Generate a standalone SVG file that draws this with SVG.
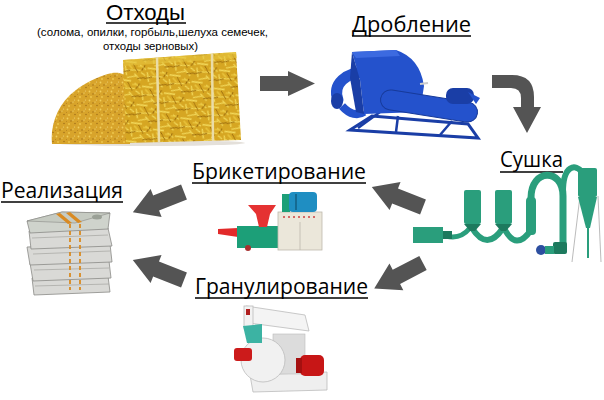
<svg xmlns="http://www.w3.org/2000/svg" width="604" height="400" viewBox="0 0 604 400">
<style>
.h{font-family:"Open Sans","Noto Sans","DejaVu Sans",sans-serif;font-size:21.5px;fill:#000}
.t{font-family:"Liberation Sans","Arial",sans-serif;fill:#000}
.ul{stroke:#000;stroke-width:1.4}
.arr{fill:#545454}
.blue{fill:#2452cc}
.blued{fill:#1a3ea6}
.grn{fill:#2a9e7c}
.grnd{fill:#1d7a5e}
.pipe{fill:none;stroke:#2a9e7c;stroke-linecap:round}
.bill{fill:#d9d9d6;stroke:#8a8a86;stroke-width:0.8}
.band{fill:#d98a22}
</style>
<defs>
<pattern id="straw" width="23" height="19" patternUnits="userSpaceOnUse" patternTransform="rotate(17)">
<rect width="23" height="19" fill="#d6a622"/>
<path d="M0 3 L11 1 M3 11 L17 7 M6 18 L14 14 M1 7 L5 16 M15 2 L22 5 M12 12 L20 17 M18 9 L23 11" stroke="#f3da5c" stroke-width="1.3"/>
<path d="M8 3 L15 10 M0 14 L7 10 M16 16 L23 13 M20 1 L18 7" stroke="#9a6a0c" stroke-width="1"/>
<path d="M4 5 L9 8 M13 4 L19 3" stroke="#e8c23a" stroke-width="1.6"/>
</pattern>
<pattern id="dust" width="11" height="9" patternUnits="userSpaceOnUse">
<rect width="11" height="9" fill="#d8a42b"/>
<circle cx="1.5" cy="1.5" r="0.9" fill="#f1cf5c"/>
<circle cx="5" cy="4" r="0.8" fill="#a87418"/>
<circle cx="8.5" cy="1" r="0.6" fill="#eed27a"/>
<circle cx="3" cy="7" r="0.9" fill="#efc94e"/>
<circle cx="9" cy="6.5" r="0.7" fill="#9c6a14"/>
<circle cx="7" cy="3" r="0.6" fill="#f4dc80"/>
<circle cx="0.5" cy="4.5" r="0.5" fill="#b58020"/>
</pattern>
<path id="arrow" d="M0 -8 L30 -8 L30 -15 L55 0 L30 15 L30 8 L0 8 Z"/>
</defs>
<rect width="604" height="400" fill="#fff"/>

<g id="connectors">
<path class="arr" d="M260 76 L288 76 L288 71 L315 83.5 L288 96 L288 91 L260 91 Z"/>
<path class="arr" d="M492 75 L512 75 Q534 75 534 97 L534 107 L541 107 L527 133 L513 107 L521 107 L521 98 Q521 88 511 88 L492 88 Z"/>
<use href="#arrow" class="arr" transform="translate(423 207) rotate(201.4)"/>
<use href="#arrow" class="arr" transform="translate(423 263) rotate(152.5)"/>
<use href="#arrow" class="arr" transform="translate(184 192) rotate(158.4)"/>
<use href="#arrow" class="arr" transform="translate(184 280) rotate(201.4)"/>
</g>

<g id="node-otkhody">
<text class="t" x="106" y="20" font-size="21.5" textLength="79" lengthAdjust="spacingAndGlyphs">Отходы</text>
<line class="ul" x1="106" y1="23" x2="186" y2="23"/>
<text class="t" x="37" y="35.5" font-size="11.5" textLength="231" lengthAdjust="spacingAndGlyphs">(солома, опилки, горбыль,шелуха семечек,</text>
<text class="t" x="103" y="49.5" font-size="11.5" textLength="95" lengthAdjust="spacingAndGlyphs">отходы зерновых)</text>
<ellipse cx="150" cy="143" rx="95" ry="3" fill="#e4e0da"/>
<path d="M52 144 C50 128 56 108 70 95 C82 84 98 76 112 73 C120 72 126 74 130 80 L130 144 Z" fill="url(#dust)"/>
<path d="M123 60 L236 52 L241 140 L126 143 Z" fill="url(#straw)"/>
<path d="M123 60 L236 52 L237 58 L124 66 Z" fill="#e6c440" opacity="0.6"/>
<path d="M157 57 L159 142 M212 54 L213 141" stroke="#eadca8" stroke-width="2.5" fill="none"/>
</g>

<g id="node-droblenie">
<text class="h" x="352" y="32" textLength="119" lengthAdjust="spacingAndGlyphs">Дробление</text>
<line class="ul" x1="352" y1="36" x2="471" y2="36"/>
<path d="M350 130 L372 116 L468 124 L478 138 Z" fill="none" stroke="#1a3ea6" stroke-width="3"/>
<path d="M358 128 L380 112 M440 135 L452 121 M396 132 L398 116" stroke="#1a3ea6" stroke-width="2.5"/>
<path d="M338 100 C332 84 346 72 366 72" class="pipe" style="stroke:#2452cc" stroke-width="11"/>
<ellipse cx="337" cy="101" rx="6" ry="8" class="blued"/>
<path d="M342 106 C350 115 358 116 364 112" fill="none" stroke="#2452cc" stroke-width="8"/>
<path d="M352 52 L396 50 Q420 58 424 86 L420 112 L364 114 L360 80 Z" class="blue"/>
<path d="M352 52 L360 80 L364 114 L356 112 L350 78 Z" class="blued"/>
<path d="M352 52 L396 50 L400 56 L356 58 Z" fill="#3c6ae0"/>
<rect x="380" y="96" width="98" height="20" rx="10" class="blue" transform="rotate(9 429 106)"/>
<rect x="380" y="96" width="98" height="20" rx="10" fill="none" stroke="#173a9a" stroke-width="1" transform="rotate(9 429 106)"/>
<rect x="446" y="88" width="28" height="16" rx="7" class="blued"/>
<path d="M468 92 L480 98 L476 104 Z" class="blue"/>
<line x1="420" y1="84" x2="428" y2="83" stroke="#ccc" stroke-width="2"/>
</g>

<g id="node-sushka">
<text class="h" x="500" y="167" textLength="63" lengthAdjust="spacingAndGlyphs">Сушка</text>
<line class="ul" x1="500" y1="172" x2="563" y2="172"/>
<line x1="598" y1="196" x2="601" y2="262" stroke="#aaa" stroke-width="0.8"/>
<line x1="580" y1="196" x2="572" y2="262" stroke="#aaa" stroke-width="0.8"/>
<path d="M446 236 Q460 240 470 228" class="pipe" stroke-width="5"/>
<path d="M472 228 Q487 252 503 228" class="pipe" stroke-width="6"/>
<path d="M504 228 Q516 252 531 230" class="pipe" stroke-width="6"/>
<path d="M531 198 C531 168 563 168 563 196 L563 246" class="pipe" stroke-width="7"/>
<path d="M563 192 C563 164 576 164 582 172" class="pipe" stroke-width="6"/>
<rect x="413" y="227" width="30" height="16" class="grn"/>
<rect x="443" y="231" width="9" height="8" class="grnd"/>
<rect x="464" y="190" width="17" height="34" rx="2" class="grn"/>
<path d="M464 224 L481 224 L475 231 L470 231 Z" class="grnd"/>
<rect x="495" y="190" width="17" height="34" rx="2" class="grn"/>
<path d="M495 224 L512 224 L506 231 L501 231 Z" class="grnd"/>
<rect x="526" y="197" width="10" height="38" rx="4" class="grn"/>
<rect x="578" y="168" width="19" height="29" rx="2" class="grn"/>
<path d="M578 197 L597 197 L590 228 L586 228 Z" class="grn"/>
<line x1="588" y1="228" x2="588" y2="258" stroke="#2a9e7c" stroke-width="2"/>
<rect x="553" y="242" width="14" height="12" rx="2" class="grnd"/>
<circle cx="541" cy="250" r="5" fill="#2d4fa0"/>
<rect x="545" y="246" width="9" height="8" fill="#2a9e7c"/>
</g>

<g id="node-briket">
<text class="h" x="192" y="179" textLength="174" lengthAdjust="spacingAndGlyphs">Брикетирование</text>
<line class="ul" x1="192" y1="183" x2="366" y2="183"/>
<path d="M218 229 L238 228 L238 237 L218 234 Z" fill="#e22a2a"/>
<rect x="237" y="226" width="42" height="22" fill="#1c9f78"/>
<path d="M248 205 L276 205 L270 214 L267 227 L259 227 L256 214 Z" fill="#e53232"/>
<rect x="278" y="212" width="44" height="38" fill="#ebe7da" stroke="#bdb9ad" stroke-width="0.8"/>
<line x1="300" y1="222" x2="300" y2="250" stroke="#bdb9ad" stroke-width="0.8"/>
<path d="M283 217 h2 M288 217 h2 M293 217 h2 M298 217 h2 M303 217 h2 M308 217 h2 M313 217 h2" stroke="#d04040" stroke-width="1.5"/>
<rect x="282" y="194" width="8" height="18" fill="#1c9f78"/>
<rect x="289" y="192" width="28" height="20" rx="4" fill="#1f8ec2"/>
<rect x="295" y="194" width="2" height="16" fill="#156a92"/>
<circle cx="248" cy="248" r="3" fill="#a83030"/>
</g>

<g id="node-granul">
<text class="h" x="195" y="294" textLength="173" lengthAdjust="spacingAndGlyphs">Гранулирование</text>
<line class="ul" x1="195" y1="298" x2="368" y2="298"/>
<path d="M250 375 L327 372 L327 390 L253 392 Z" fill="#efefef" stroke="#bbb" stroke-width="0.8"/>
<rect x="273" y="334" width="32" height="40" fill="#dcdcdc" stroke="#bbb" stroke-width="0.6"/>
<path d="M246 306 L305 315 L309 331 L249 323 Z" fill="#f4f4f4" stroke="#bbb" stroke-width="0.8"/>
<rect x="244" y="306" width="9" height="22" fill="#f2f2f2" stroke="#bbb" stroke-width="0.8"/>
<rect x="246" y="309" width="4" height="6" fill="#b02020"/>
<circle cx="263" cy="360" r="22" fill="#f1f1f1" stroke="#bbb" stroke-width="0.8"/>
<path d="M243 326 L262 324 L262 343 L247 343 Z" fill="#3cb3a3"/>
<rect x="234" y="348" width="18" height="13" rx="3" fill="#cc1b1b"/>
<rect x="300" y="355" width="24" height="21" rx="5" fill="#c71616"/>
<rect x="296" y="358" width="6" height="15" fill="#a51010"/>
</g>

<g id="node-realizaciya">
<text class="h" x="1" y="198" textLength="122" lengthAdjust="spacingAndGlyphs">Реализация</text>
<line class="ul" x1="1" y1="202" x2="123" y2="202"/>
<path class="bill" d="M32 278 L108 276 L110 292 L34 295 Z"/>
<path class="bill" d="M30 263 L109 261 L111 278 L33 281 Z"/>
<path class="bill" d="M27 247 L110 244 L112 262 L30 265 Z"/>
<path class="bill" d="M29 231 L108 228 L112 246 L31 249 Z"/>
<path class="bill" d="M27 221 L62 212 L110 213 L108 229 L30 233 Z" style="fill:#cfd3cc"/>
<path d="M27 221 L62 212 L110 213 L75 223 Z" fill="#c6cbc2" stroke="#8a8a86" stroke-width="0.6"/>
<path d="M32 238 L108 235 M33 254 L110 251 M34 270 L109 268 M35 286 L109 284" stroke="#a5a5a0" stroke-width="0.7"/>
<path class="band" d="M56 214 L60 213 L72 223 L68 224 Z"/>
<path class="band" d="M66 213 L70 212 L82 222 L78 223 Z"/>
<path d="M70 224 L70 290 M80 224 L80 290" stroke="#d98a22" stroke-width="1.8" stroke-dasharray="4 3"/>
<ellipse cx="97" cy="217" rx="5" ry="2.5" fill="#9aa096"/>
</g>
</svg>
